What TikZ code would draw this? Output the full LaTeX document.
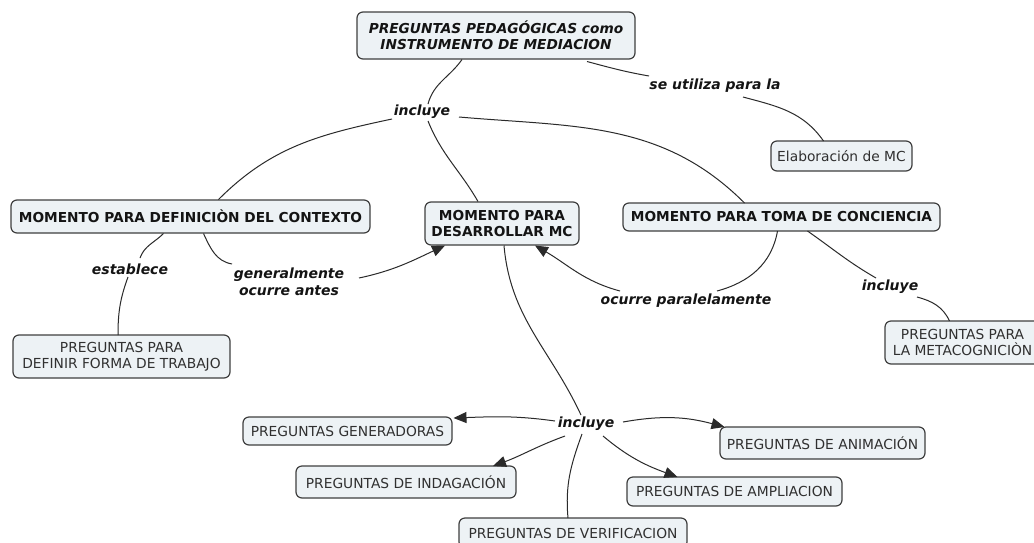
\documentclass[tikz,border=0pt]{standalone}
\usepackage{fontspec}
\setmainfont{DejaVu Sans}
\usetikzlibrary{arrows.meta,calc}
\definecolor{boxfill}{HTML}{EDF2F5}
\definecolor{boxline}{HTML}{3F3F3F}
\definecolor{linkc}{HTML}{2A2A2A}
\definecolor{txtc}{HTML}{303030}
\tikzset{
  concept/.style={draw=boxline, line width=1.2pt, fill=boxfill, rounded corners=6pt,
    align=center, inner sep=0pt, font=\fontsize{13.8}{16}\selectfont, text=txtc},
  mainc/.style={concept, font=\fontsize{13.7}{16}\selectfont\bfseries, text=black!92},
  topc/.style={concept, font=\fontsize{13.7}{16}\selectfont\bfseries\itshape, text=black!92},
  lbl/.style={inner sep=1pt, align=center, font=\fontsize{14}{16.5}\selectfont\bfseries\itshape, text=black!92},
  link/.style={draw=linkc, line width=1pt},
  arr/.style={link, -{Triangle[length=13pt,width=11pt]}},
}
\begin{document}
\begin{tikzpicture}[x=1pt,y=-1pt]
\clip (0,0) rectangle (1034,542);
\fill[white] (0,0) rectangle (1034,542);
% concepts
\node[topc, minimum width=278pt, minimum height=47pt] (top) at (496,35.5) {PREGUNTAS PEDAGÓGICAS como\\INSTRUMENTO DE MEDIACION};
\node[concept, minimum width=141pt, minimum height=30pt] (elab) at (841.5,156) {Elaboración de MC};
\node[mainc, minimum width=359pt, minimum height=33pt] (def) at (190.5,216.5) {MOMENTO PARA DEFINICIÒN DEL CONTEXTO};
\node[mainc, minimum width=154pt, minimum height=43pt] (des) at (502,223.5) {MOMENTO PARA\\DESARROLLAR MC};
\node[mainc, minimum width=317pt, minimum height=28pt] (toma) at (781.5,217) {MOMENTO PARA TOMA DE CONCIENCIA};
\node[concept, minimum width=217pt, minimum height=43pt] (trab) at (121.5,356.5) {PREGUNTAS PARA\\DEFINIR FORMA DE TRABAJO};
\node[concept, minimum width=155pt, minimum height=43pt] (meta) at (962.5,342.5) {PREGUNTAS PARA\\LA METACOGNICIÒN};
\node[concept, minimum width=209pt, minimum height=28pt] (genr) at (347.5,431) {PREGUNTAS GENERADORAS};
\node[concept, minimum width=220pt, minimum height=32pt] (inda) at (406,482) {PREGUNTAS DE INDAGACIÓN};
\node[concept, minimum width=228pt, minimum height=30pt] (veri) at (573,533) {PREGUNTAS DE VERIFICACION};
\node[concept, minimum width=205pt, minimum height=32pt] (anim) at (822.5,443) {PREGUNTAS DE ANIMACIÓN};
\node[concept, minimum width=215pt, minimum height=29pt] (ampl) at (734.5,491.5) {PREGUNTAS DE AMPLIACION};
% linking phrases
\node[lbl] (inc1) at (422,112) {incluye};
\node[lbl] (seutil) at (715,86) {se utiliza para la};
\node[lbl] (estab) at (130,269) {establece};
\node[lbl] (gen) at (289,282) {generalmente\\ocurre antes};
\node[lbl] (ocur) at (686,301) {ocurre paralelamente};
\node[lbl] (inc2) at (890,287) {incluye};
\node[lbl] (inc3) at (586,424) {incluye};
% connectors
\draw[link] ($(top)+(-34,24)$) to[out=235,in=75] ($(inc1)+(6,-8)$);
\draw[link] ($(inc1)+(-30,7)$) to[out=192,in=45] ($(def)+(28,-17)$);
\draw[link] ($(inc1)+(6,9)$) to[out=-68,in=120] ($(des)+(-24,-22)$);
\draw[link] ($(inc1)+(37,5)$) to[out=-5,in=135] ($(toma)+(-37,-14)$);
\draw[link] ($(top)+(91,26)$) to[out=-15,in=170] ($(seutil)+(-66,-10)$);
\draw[link] ($(seutil)+(28,11)$) to[out=-15,in=125] ($(elab)+(-18,-15)$);
\draw[link] ($(def)+(-27,17)$) to[out=-135,in=70] ($(estab)+(10,-11)$);
\draw[link] ($(estab)+(-2,8)$) to[out=-110,in=90] ($(trab)+(-3.5,-21.5)$);
\draw[link] ($(def)+(13,17)$) to[out=-65,in=170] ($(gen)+(-57,-18)$);
\draw[arr] ($(gen)+(70,-4)$) to[out=12,in=205] ($(des)+(-57,22)$);
\draw[link] ($(des)+(2,22)$) to[out=-85,in=115] ($(inc3)+(-5,-9)$);
\draw[link] ($(toma)+(-4,14)$) to[out=-100,in=15] ($(ocur)+(31,-10)$);
\draw[arr] ($(ocur)+(-66,-10)$) to[out=165,in=-30] ($(des)+(33,22)$);
\draw[link] ($(toma)+(26,14)$) to[out=-35,in=150] ($(inc2)+(-14,-9)$);
\draw[link] ($(inc2)+(27,10)$) to[out=-15,in=115] ($(meta)+(-13,-21.5)$);
\draw[arr] ($(inc3)+(-31,-3)$) to[out=172,in=2] ($(genr)+(106,-13)$);
\draw[arr] ($(inc3)+(-21,12)$) to[out=200,in=20] ($(inda)+(87,-16)$);
\draw[link] ($(inc3)+(-4,10)$) to[out=-110,in=95] ($(veri)+(-5,-15)$);
\draw[arr] ($(inc3)+(17,12)$) to[out=-40,in=160] ($(ampl)+(-57,-14.5)$);
\draw[arr] ($(inc3)+(37,-2)$) to[out=10,in=165] ($(anim)+(-98,-16)$);
\end{tikzpicture}
\end{document}
